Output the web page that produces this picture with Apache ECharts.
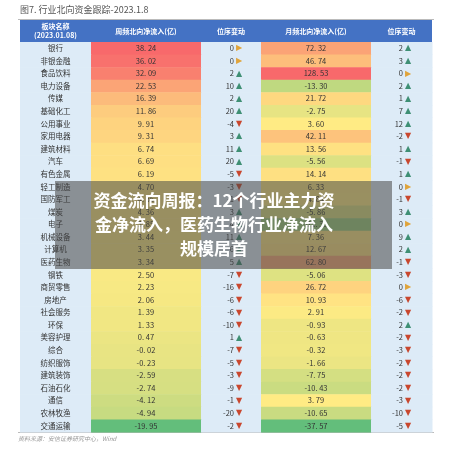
<!DOCTYPE html><html><head><meta charset="utf-8">
<script src="https://cdn.jsdelivr.net/npm/echarts@6/dist/echarts.min.js"></script>
<style>html,body{margin:0;padding:0;background:#fff}#c{width:449px;height:452px}</style></head><body><div id="c"></div>
<script>
const sectors=['银行','非银金融','食品饮料','电力设备','传媒','基础化工','公用事业','家用电器','建筑材料','汽车','有色金属','轻工制造','国防军工','煤炭','电子','机械设备','计算机','医药生物','钢铁','商贸零售','房地产','社会服务','环保','美容护理','综合','纺织服饰','建筑装饰','石油石化','通信','农林牧渔','交通运输'];
const weekly=[38.24,36.02,32.09,22.53,16.39,11.86,9.91,9.31,6.74,6.69,6.19,4.70,4.56,4.36,3.85,3.44,3.35,3.34,2.50,2.23,2.06,1.39,1.33,0.47,-0.02,-0.23,-2.59,-2.74,-4.12,-4.94,-19.95];
const weeklyRank=[0,0,2,10,2,20,-4,3,11,20,-5,-3,-1,3,4,11,6,5,-7,-16,-6,-6,-10,1,-7,-5,-3,-9,-1,-20,-2];
const monthly=[72.32,46.74,128.53,-13.30,21.72,-2.75,3.60,42.11,13.56,-5.56,14.14,6.33,4.84,-5.86,-21.35,7.36,12.67,62.80,-5.06,26.72,10.93,2.91,-0.93,-0.63,-0.32,-1.66,-7.75,-10.43,3.79,-10.65,-37.57];
const monthlyRank=[2,3,0,2,1,7,12,-2,1,-1,1,0,-1,3,0,9,2,-1,-3,0,-6,-2,2,-2,-3,-2,-2,-2,-3,-10,-5];
const headers=['板块名称\n(2023.01.08)','周频北向净流入(亿)','位序变动','月频北向净流入(亿)','位序变动'];

const edges=[0,71,181,241,351,412];
function scale(arr){const s=[...arr].sort((a,b)=>a-b);const mn=s[0],mx=s[s.length-1],md=s[Math.floor(s.length/2)];
 const g=[99,190,123],y=[255,235,132],r=[248,105,107];
 return v=>{let a,b,t;if(v>=md){a=y;b=r;t=(v-md)/(mx-md);}else{a=g;b=y;t=(v-mn)/(md-mn);}
 const c=a.map((x,i)=>Math.round(x+(b[i]-x)*t));return 'rgb('+c.join(',')+')';};}
const wc=scale(weekly),mc=scale(monthly);
const fmt=v=>v.toFixed(2).replace('.','. ');
function rankIcon(v){return v>0?{t:'▲',c:'#3f8f74'}:v<0?{t:'▼',c:'#c9472e'}:{t:'▶',c:'#e0a43a'};}
const ch=echarts.init(document.getElementById('c'));
const font='"Noto Sans CJK SC","Noto Sans",sans-serif';
ch.setOption({animation:false,
 grid:{left:20,right:17,top:42,bottom:20},
 xAxis:{type:'value',min:0,max:412,show:false},
 yAxis:{type:'category',data:sectors,inverse:true,show:false},
 graphic:[
  {type:'text',left:20,top:5,style:{text:'图7. 行业北向资金跟踪-2023.1.8',font:'9px '+font,fill:'#555'}},
  {type:'rect',shape:{x:18,y:19,width:416,height:1},style:{fill:'#bbb'}},
  {type:'rect',shape:{x:20,y:20,width:412,height:22},style:{fill:'#4472C4'}},
  ...headers.map((h,i)=>({type:'text',x:20+(edges[i]+edges[i+1])/2,y:31,style:{text:h,font:'bold 7px '+font,fill:'#fff',textAlign:'center',textVerticalAlign:'middle',lineHeight:9}})),
  {type:'rect',shape:{x:18,y:432,width:416,height:1},style:{fill:'#bbb'}},
  {type:'text',left:18,top:436,style:{text:'资料来源：安信证券研究中心，Wind',font:'italic 6px '+font,fill:'#999'}},
  {type:'rect',z:100,shape:{x:55,y:181,width:337,height:88},style:{fill:'rgba(70,70,70,0.55)'}},
  {type:'text',z:101,x:214,y:225,style:{text:'资金流向周报：12个行业主力资\n金净流入，医药生物行业净流入\n规模居首',font:'bold 17px '+font,fill:'#fff',textAlign:'center',textVerticalAlign:'middle',lineHeight:24}}
 ],
 series:[{type:'custom',data:sectors.map((s,i)=>i),encode:{y:0},
  renderItem:(p,api)=>{const i=api.value(0);const h=api.size([0,1])[1];
   const x=k=>api.coord([edges[k],i])[0];const yc=api.coord([0,i])[1];const y0=yc-h/2;
   const ch=[];
   const bg=[ '#DDEBF7',wc(weekly[i]),'#DDEBF7',mc(monthly[i]),'#DDEBF7'];
   for(let k=0;k<5;k++)ch.push({type:'rect',shape:{x:x(k),y:y0,width:x(k+1)-x(k)+0.5,height:h+0.5},style:{fill:bg[k]}});
   const tx=(t,xx,al)=>({type:'text',x:xx,y:yc,style:{text:t,font:'7.5px '+font,fill:'#333',textAlign:al,textVerticalAlign:'middle'}});
   ch.push(tx(sectors[i],(x(0)+x(1))/2,'center'));
   ch.push(tx(fmt(weekly[i]),(x(1)+x(2))/2,'center'));
   ch.push(tx(fmt(monthly[i]),(x(3)+x(4))/2,'center'));
   [[weeklyRank[i],x(2)+33],[monthlyRank[i],x(4)+32]].forEach(([v,xx])=>{ch.push(tx(String(v),xx,'right'));const ic=rankIcon(v);
     ch.push({type:'text',x:xx+2,y:yc,style:{text:ic.t,font:'8px DejaVu Sans',fill:ic.c,textAlign:'left',textVerticalAlign:'middle'}});});
   return {type:'group',children:ch};}
 }]
});
</script></body></html>
